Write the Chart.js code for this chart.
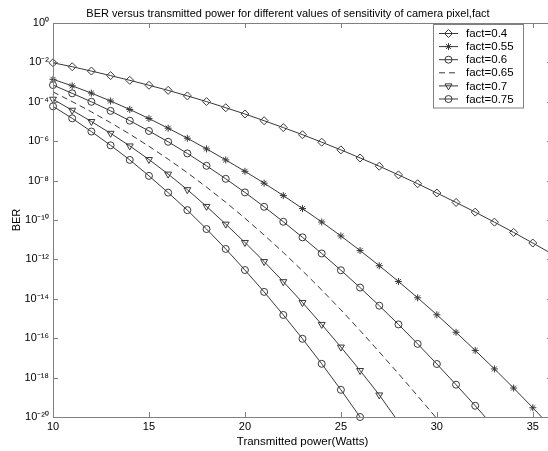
<!DOCTYPE html>
<html>
<head>
<meta charset="utf-8">
<script src="https://cdn.jsdelivr.net/npm/chart.js@4.4.1/dist/chart.umd.min.js"></script>
<style>
  html, body { margin: 0; padding: 0; background: #fff; overflow: hidden; width: 548px; height: 451px; }
  canvas { display: block; }
</style>
</head>
<body>
<canvas id="chartBer" width="557" height="451"></canvas>
<script>
const power = [10, 11, 12, 13, 14, 15, 16, 17, 18, 19, 20, 21, 22, 23, 24, 25, 26, 27, 28, 29, 30, 31, 32, 33, 34, 35, 36];
const factLabels = ['fact=0.4', 'fact=0.55', 'fact=0.6', 'fact=0.65', 'fact=0.7', 'fact=0.75'];

// BER exponents (log10), one per integer power from 10
const berExp040 = [-2.02, -2.22, -2.44, -2.67, -2.91, -3.16, -3.42, -3.70, -3.99, -4.30, -4.62, -4.96, -5.31, -5.67, -6.05, -6.44, -6.85, -7.27, -7.71, -8.16, -8.63, -9.11, -9.60, -10.11, -10.63, -11.17, -11.72];
const berExp055 = [-2.86, -3.19, -3.56, -3.96, -4.39, -4.85, -5.34, -5.85, -6.39, -6.95, -7.53, -8.13, -8.76, -9.42, -10.10, -10.81, -11.55, -12.32, -13.12, -13.95, -14.81, -15.70, -16.62, -17.56, -18.53, -19.53, -20.56];
const berExp060 = [-3.15, -3.57, -4.00, -4.46, -4.96, -5.48, -6.03, -6.62, -7.25, -7.91, -8.60, -9.33, -10.09, -10.88, -11.70, -12.55, -13.43, -14.35, -15.30, -16.29, -17.31, -18.36, -19.43, -20.53];
const berExp065 = [-3.50, -3.99, -4.51, -5.06, -5.64, -6.26, -6.91, -7.60, -8.33, -9.10, -9.91, -10.76, -11.65, -12.58, -13.55, -14.56, -15.61, -16.70, -17.80, -18.93, -20.08];
const berExp070 = [-3.87, -4.43, -5.00, -5.60, -6.24, -6.93, -7.67, -8.46, -9.31, -10.21, -11.14, -12.11, -13.13, -14.19, -15.30, -16.45, -17.64, -18.88, -20.25];
const berExp075 = [-4.23, -4.84, -5.51, -6.21, -6.95, -7.76, -8.61, -9.50, -10.46, -11.47, -12.54, -13.65, -14.82, -16.03, -17.30, -18.62, -20.00];

const xTicks = [10, 15, 20, 25, 30, 35];
const yTickExps = [0, -2, -4, -6, -8, -10, -12, -14, -16, -18, -20];

const fontFamily = "'Liberation Sans', Arial, Helvetica, sans-serif";
const lineColor = '#383838';
const axisColor = '#808080';

const supMap = { '0': '⁰', '1': '¹', '2': '²', '3': '³', '4': '⁴', '5': '⁵', '6': '⁶', '7': '⁷', '8': '⁸', '9': '⁹', '-': '⁻' };
function sup(n) {
  return String(n).split('').map((c) => supMap[c]).join('');
}

function toPoints(exps) {
  return exps.map((e, i) => ({ x: power[i], y: Math.pow(10, e) }));
}

const seriesExps = [berExp040, berExp055, berExp060, berExp065, berExp070, berExp075];
const markers = [
  { style: 'rectRot', radius: 4, rotation: 0 },
  { style: 'star', radius: 3.5, rotation: 0 },
  { style: 'circle', radius: 3.5, rotation: 0 },
  { style: false, radius: 0, rotation: 0 },
  { style: 'triangle', radius: 4, rotation: 180 },
  { style: 'circle', radius: 3.5, rotation: 0 },
];

const datasets = seriesExps.map((exps, i) => ({
  label: factLabels[i],
  data: toPoints(exps),
  borderColor: lineColor,
  borderWidth: 1,
  borderDash: i === 3 ? [6, 4] : [],
  backgroundColor: 'rgba(0,0,0,0)',
  pointStyle: markers[i].style,
  pointRadius: markers[i].radius,
  pointRotation: markers[i].rotation,
  pointBorderColor: lineColor,
  pointBackgroundColor: 'rgba(0,0,0,0)',
  pointBorderWidth: 1,
  tension: 0,
  clip: { left: 6, top: 1, right: 1, bottom: i === 5 ? 6 : 0.5 },
}));

// frame, inward ticks, title and the boxed legend
const berDecor = {
  id: 'berDecor',
  afterDraw(chart) {
    const { ctx, chartArea: a, scales } = chart;
    ctx.save();
    ctx.strokeStyle = axisColor;
    ctx.lineWidth = 1;
    ctx.strokeRect(Math.round(a.left) + 0.5, Math.round(a.top) + 0.5, Math.round(a.right - a.left), Math.round(a.bottom - a.top));
    ctx.beginPath();
    xTicks.forEach((v) => {
      const px = Math.round(scales.x.getPixelForValue(v)) + 0.5;
      ctx.moveTo(px, a.bottom); ctx.lineTo(px, a.bottom - 5);
      ctx.moveTo(px, a.top); ctx.lineTo(px, a.top + 5);
    });
    yTickExps.forEach((e) => {
      const py = Math.round(scales.y.getPixelForValue(Math.pow(10, e))) + 0.5;
      ctx.moveTo(a.left, py); ctx.lineTo(a.left + 5, py);
      ctx.moveTo(a.right, py); ctx.lineTo(a.right - 5, py);
    });
    ctx.stroke();

    ctx.fillStyle = '#000';
    ctx.font = '11px ' + fontFamily;
    ctx.textAlign = 'center';
    ctx.textBaseline = 'alphabetic';
    ctx.fillText('BER versus transmitted power for different values of sensitivity of camera pixel,fact', 288, 17);

    const box = { x: 433.5, y: 24.5, w: 90, h: 83.5 };
    ctx.fillStyle = '#fff';
    ctx.fillRect(box.x, box.y, box.w, box.h);
    ctx.strokeStyle = axisColor;
    ctx.strokeRect(box.x, box.y, box.w, box.h);
    ctx.font = '11.5px ' + fontFamily;
    ctx.textAlign = 'left';
    ctx.textBaseline = 'middle';
    chart.data.datasets.forEach((ds, i) => {
      const y = 33.5 + i * 13.1;
      ctx.strokeStyle = lineColor;
      ctx.setLineDash(ds.borderDash);
      ctx.beginPath();
      ctx.moveTo(439, y); ctx.lineTo(458, y);
      ctx.stroke();
      ctx.setLineDash([]);
      if (ds.pointStyle) {
        ctx.fillStyle = 'rgba(0,0,0,0)';
        Chart.helpers.drawPoint(ctx, { pointStyle: ds.pointStyle, radius: ds.pointRadius, rotation: ds.pointRotation, borderWidth: 1 }, 448.5, y);
      }
      ctx.fillStyle = '#000';
      ctx.fillText(ds.label, 466, y + 0.5);
    });
    ctx.restore();
  },
};

const chartBerConfig = {
  type: 'line',
  data: { datasets },
  plugins: [berDecor],
  options: {
    responsive: false,
    animation: false,
    layout: { padding: { top: 23, right: 0, bottom: 0, left: 0 } },
    plugins: {
      legend: { display: false },
      tooltip: { enabled: false },
    },
    scales: {
      x: {
        type: 'linear',
        min: 10,
        max: 36,
        afterBuildTicks: (s) => { s.ticks = xTicks.map((v) => ({ value: v })); },
        afterFit: (s) => { s.height = 34; s.paddingLeft = 0; s.paddingRight = 0; },
        grid: { display: true, drawOnChartArea: false, drawTicks: false },
        border: { display: true, color: axisColor },
        ticks: { color: '#000', font: { family: fontFamily, size: 11 }, padding: 3, maxRotation: 0 },
        title: {
          display: true,
          text: 'Transmitted power(Watts)',
          color: '#000',
          font: { family: fontFamily, size: 11.5 },
          padding: { top: 0, bottom: 2 },
        },
      },
      y: {
        type: 'logarithmic',
        min: 1e-20,
        max: 1,
        afterBuildTicks: (s) => { s.ticks = yTickExps.map((e) => ({ value: Math.pow(10, e) })); },
        afterFit: (s) => { s.width = 53; s.paddingTop = 0; s.paddingBottom = 0; },
        grid: { display: true, drawOnChartArea: false, drawTicks: false },
        border: { display: true, color: axisColor },
        ticks: {
          color: '#000',
          font: { family: fontFamily, size: 11 },
          padding: 4,
          callback: (v) => '10' + sup(Math.round(Math.log10(v))),
        },
        title: {
          display: true,
          text: 'BER',
          color: '#000',
          font: { family: fontFamily, size: 11 },
          padding: { top: 10, bottom: 0 },
        },
      },
    },
  },
};

const chartBer = new Chart(document.getElementById('chartBer'), chartBerConfig);
</script>
</body>
</html>
